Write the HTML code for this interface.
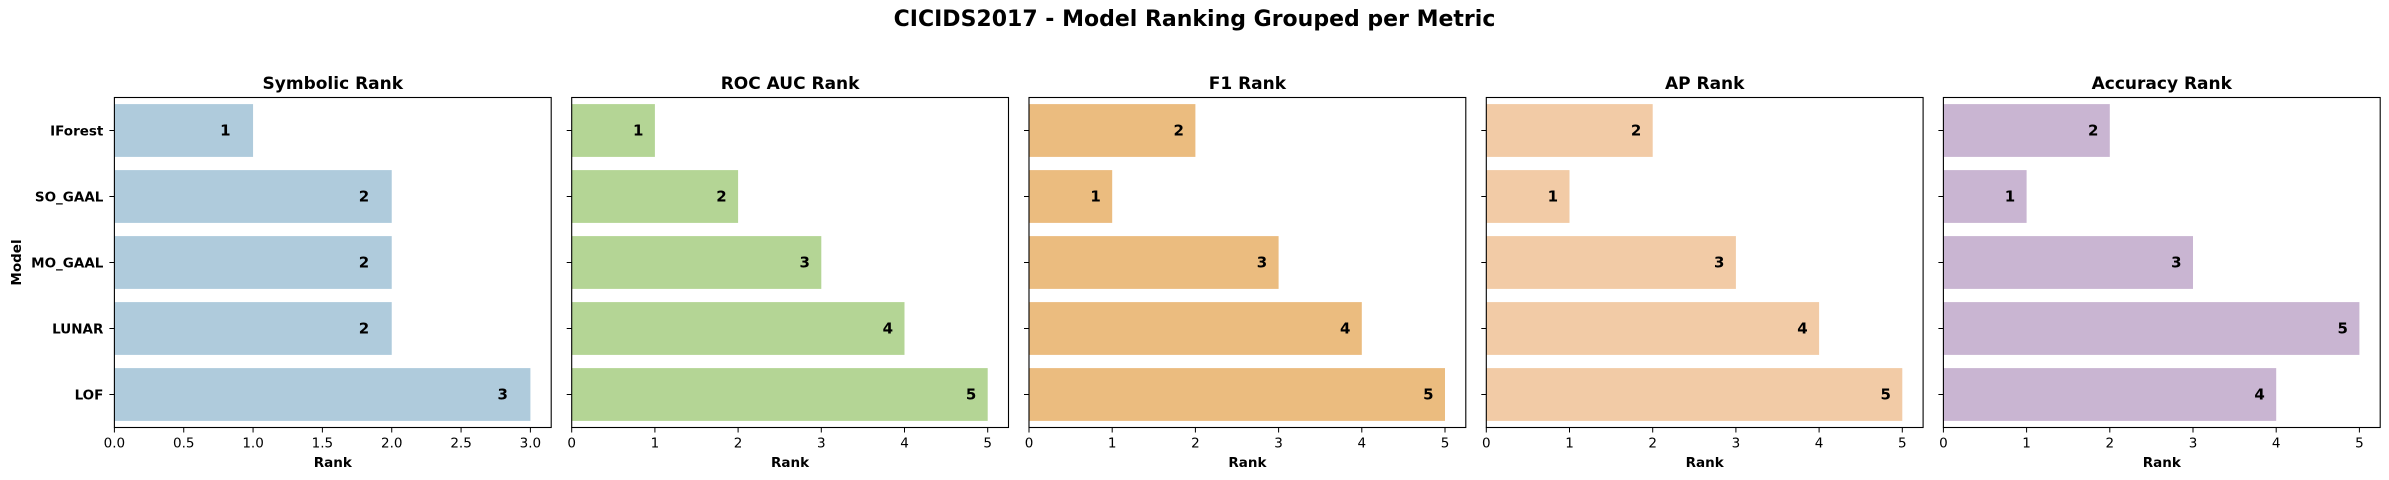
<!DOCTYPE html>
<html><head><meta charset="utf-8"><style>
body{margin:0;background:#fff;}
svg{display:block;font-family:"DejaVu Sans","Liberation Sans",sans-serif;}
</style></head><body>
<svg id="chart" width="2389" height="480" viewBox="0 0 2389 480">
<text x="1194.5" y="26" text-anchor="middle" font-size="22" font-weight="bold">CICIDS2017 - Model Ranking Grouped per Metric</text>
</svg>
<script>
const models = ["IForest","SO_GAAL","MO_GAAL","LUNAR","LOF"];
const panelTitles = ["Symbolic Rank","ROC AUC Rank","F1 Rank","AP Rank","Accuracy Rank"];
const symbolicRank = [1,2,2,2,3];
const rocAucRank = [1,2,3,4,5];
const f1Rank = [2,1,3,4,5];
const apRank = [2,1,3,4,5];
const accuracyRank = [2,1,3,5,4];
const symbolicTicks = ["0.0","0.5","1.0","1.5","2.0","2.5","3.0"];
const intTicks = ["0","1","2","3","4","5"];

const NS="http://www.w3.org/2000/svg";
const svgEl=document.getElementById('chart');
function mk(tag,attrs,parent){const e=document.createElementNS(NS,tag);for(const k in attrs)e.setAttribute(k,attrs[k]);(parent||svgEl).appendChild(e);return e;}
const panels=[
 {vals:symbolicRank,ticks:symbolicTicks,color:"#afcbdc",slug:"symbolic"},
 {vals:rocAucRank,ticks:intTicks,color:"#b4d595",slug:"roc-auc"},
 {vals:f1Rank,ticks:intTicks,color:"#ebbc7f",slug:"f1"},
 {vals:apRank,ticks:intTicks,color:"#f2cba6",slug:"ap"},
 {vals:accuracyRank,ticks:intTicks,color:"#c9b5d2",slug:"accuracy"}
];
const lefts=[114.4,571.7,1029,1486.3,1943.4];
const W=436.8, axTop=97.5, H=330;
panels.forEach((p,pi)=>{
  const g=mk('g',{});
  
  
  const L=lefts[pi];
  const maxT=parseFloat(p.ticks[p.ticks.length-1]);
  const dmax=Math.max(...p.vals, maxT)*1.05;
  const xs=v=>L+v/dmax*W;
  const band=H/models.length;
  const yc=i=>axTop+band*(i+0.5);
  p.vals.forEach((v,i)=>{
    const r=mk('rect',{x:xs(0),y:yc(i)-band*0.4,width:xs(v)-xs(0),height:band*0.8,fill:p.color},g);
    
    
    const t=mk('text',{x:xs(v-0.2),y:yc(i)+5,'text-anchor':'middle','font-size':'15','font-weight':'bold'},g);
    t.textContent=String(v);
    
    
  });
  const fr=mk('rect',{x:L,y:axTop,width:W,height:H,fill:'none',stroke:'#000','stroke-width':'1.1'},g);
  
  
  models.forEach((m,i)=>{
    mk('line',{x1:L-5,x2:L,y1:yc(i),y2:yc(i),stroke:'#000','stroke-width':'1'},g);
    if(pi===0){
      const t=mk('text',{x:L-11,y:yc(i)+5,'text-anchor':'end','font-size':'13.5','font-weight':'bold'},g);
      t.textContent=m;
      
      
    }
  });
  p.ticks.forEach(tk=>{
    const x=xs(parseFloat(tk));
    mk('line',{x1:x,x2:x,y1:axTop+H,y2:axTop+H+5,stroke:'#000','stroke-width':'1'},g);
    const t=mk('text',{x:x,y:axTop+H+20,'text-anchor':'middle','font-size':'13.5'},g);
    t.textContent=tk;
    
    
  });
  const xl=mk('text',{x:L+W/2,y:467,'text-anchor':'middle','font-size':'13.5','font-weight':'bold'},g);
  xl.textContent='Rank';
  
  
  const ti=mk('text',{x:L+W/2,y:89,'text-anchor':'middle','font-size':'17','font-weight':'bold'},g);
  ti.textContent=panelTitles[pi];
  
  
});
const yl=mk('text',{x:0,y:0,'text-anchor':'middle','font-size':'13.5','font-weight':'bold',transform:'translate(21,262.5) rotate(-90)'});
yl.textContent='Model';


</script>
</body></html>
